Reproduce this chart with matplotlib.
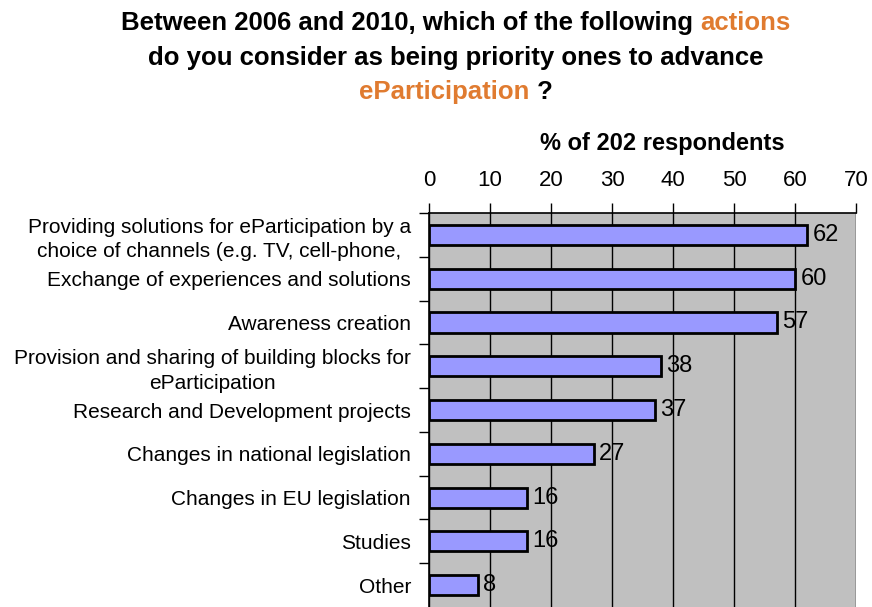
import numpy as np
import matplotlib.pyplot as plt

plt.rcParams['font.family'] = ['Liberation Sans', 'DejaVu Sans']

categories = [
    "Providing solutions for eParticipation by a\nchoice of channels (e.g. TV, cell-phone,",
    "Exchange of experiences and solutions",
    "Awareness creation",
    "Provision and sharing of building blocks for\neParticipation",
    "Research and Development projects",
    "Changes in national legislation",
    "Changes in EU legislation",
    "Studies",
    "Other",
]
values = [62, 60, 57, 38, 37, 27, 16, 16, 8]
xticks = [0, 10, 20, 30, 40, 50, 60, 70]

orange = '#E07B30'

fig = plt.figure(figsize=(8.72, 6.07), dpi=100)
ax = fig.add_axes([0.492, 0.0, 0.490, 0.649])

y = np.arange(len(categories))
ax.barh(y, values, height=0.46, color='#9999FF', edgecolor='black',
        linewidth=2, zorder=3)
for yi, v in zip(y, values):
    ax.text(v + 0.9, yi, str(v), va='center', ha='left', fontsize=17, zorder=4)

ax.set_facecolor('#C0C0C0')
ax.set_xlim(0, 70)
ax.set_ylim(len(categories) - 0.5, -0.5)

# value axis on top, black vertical gridlines
ax.xaxis.tick_top()
ax.set_xticks(xticks)
ax.set_xticklabels([str(t) for t in xticks], fontsize=16)
ax.tick_params(axis='x', direction='out', length=7, width=1, pad=9)
ax.grid(axis='x', color='black', linewidth=1, zorder=1)

# category labels without marks, separators as minor ticks
ax.set_yticks(y)
ax.set_yticklabels(categories, fontsize=15, linespacing=1.35,
                   multialignment='center')
ax.tick_params(axis='y', which='major', length=0, pad=13)
ax.set_yticks(np.arange(len(categories)) - 0.5, minor=True)
ax.tick_params(axis='y', which='minor', direction='out', length=7, width=1)

for side in ['right', 'bottom']:
    ax.spines[side].set_visible(False)
ax.spines['top'].set_linewidth(1.2)
ax.spines['left'].set_linewidth(1.2)

fig.text(0.76, 0.764, "% of 202 respondents", ha='center', va='center',
         fontsize=17, fontweight='bold')

# title with highlighted words
title_lines = [
    [("Between 2006 and 2010, which of the following ", 'black'), ("actions", orange)],
    [("do you consider as being priority ones to advance", 'black')],
    [("eParticipation", orange), (" ?", 'black')],
]
line_y = [0.962, 0.905, 0.848]
fig.canvas.draw()
renderer = fig.canvas.get_renderer()
for parts, ly in zip(title_lines, line_y):
    texts = []
    for s, c in parts:
        t = fig.text(0, ly, s, color=c, fontsize=18.5, fontweight='bold',
                     va='center', ha='left')
        texts.append(t)
    widths = [t.get_window_extent(renderer).width for t in texts]
    total = sum(widths)
    x0 = (456 - total / 2)
    for t, w in zip(texts, widths):
        t.set_x(x0 / fig.bbox.width)
        x0 += w

fig.savefig('out.png', dpi=100)
